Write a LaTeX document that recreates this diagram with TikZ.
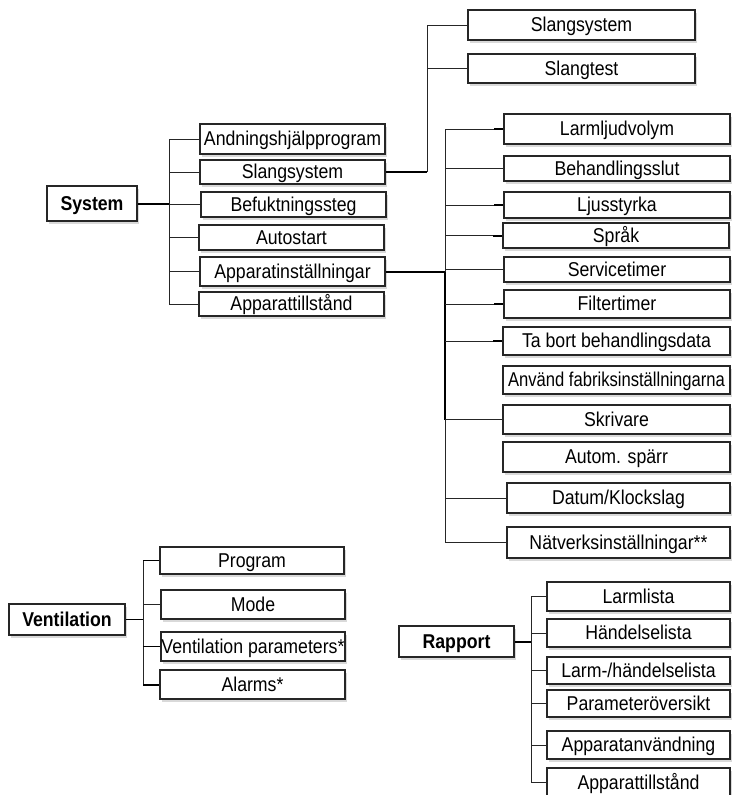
\documentclass[tikz,border=0pt]{standalone}
\usepackage{fontspec}
\setmainfont{Liberation Sans}[FakeStretch=0.885]
\newfontfamily\narrowfont{Liberation Sans}[FakeStretch=0.83]
\usetikzlibrary{shadows}
\tikzset{
  box/.style={draw=black!85, line width=1.2pt, fill=white, inner sep=0pt,
    text height=13.6pt, text depth=0pt, font=\fontsize{20}{23}\selectfont,
    drop shadow={shadow xshift=1.5pt, shadow yshift=-3pt, opacity=0.3}},
  hbox/.style={box, line width=2pt, font=\bfseries\fontsize{20}{23}\selectfont},
  ln/.style={line width=1pt, draw=black!85},
  tk/.style={line width=2pt, draw=black},
  md/.style={line width=1.6pt, draw=black}
}
\begin{document}
\begin{tikzpicture}[x=1pt,y=-1pt]
\useasboundingbox (0,0) rectangle (731,795);

% ---------- System ----------
\node[hbox, minimum width=90pt, minimum height=35pt] (sys) at (92,203.5) {System};
\node[box, minimum width=185pt, minimum height=30pt] (a1) at (292.5,139) {Andningshjälpprogram};
\node[box, minimum width=185pt, minimum height=24pt] (a2) at (292.5,172) {Slangsystem};
\node[box, minimum width=185pt, minimum height=25pt] (a3) at (293.5,204.5) {Befuktningssteg};
\node[box, minimum width=185pt, minimum height=25pt] (a4) at (291.5,237.5) {Autostart};
\node[box, minimum width=185pt, minimum height=29pt] (a5) at (292.5,271.5) {Apparatinställningar};
\node[box, minimum width=185pt, minimum height=24pt] (a6) at (291.5,304) {Apparattillstånd};

\node[box, minimum width=227pt, minimum height=30pt] (b1) at (581.5,25) {Slangsystem};
\node[box, minimum width=227pt, minimum height=29pt] (b2) at (581.5,68.5) {Slangtest};

\node[box, minimum width=226pt, minimum height=30pt] (c1) at (617,129) {Larmljudvolym};
\node[box, minimum width=226pt, minimum height=25pt] (c2) at (617,168.5) {Behandlingsslut};
\node[box, minimum width=226pt, minimum height=26pt] (c3) at (617,205) {Ljusstyrka};
\node[box, minimum width=226pt, minimum height=25pt] (c4) at (616,235.5) {Språk};
\node[box, minimum width=226pt, minimum height=25pt] (c5) at (617,269.5) {Servicetimer};
\node[box, minimum width=226pt, minimum height=28pt] (c6) at (617,304) {Filtertimer};
\node[box, minimum width=227pt, minimum height=28pt] (c7) at (616.5,341) {Ta bort behandlingsdata};
\node[box, minimum width=227pt, minimum height=28pt, font=\narrowfont\fontsize{20}{23}\selectfont] (c8) at (616.5,380) {Använd fabriksinställningarna};
\node[box, minimum width=227pt, minimum height=29pt] (c9) at (616.5,419.5) {Skrivare};
\node[box, minimum width=227pt, minimum height=30pt] (c10) at (616.5,457) {Autom. spärr};
\node[box, minimum width=223pt, minimum height=30pt] (c11) at (618.5,498) {Datum/Klockslag};
\node[box, minimum width=223pt, minimum height=31pt] (c12) at (618.5,542.5) {Nätverksinställningar**};

\coordinate (tS) at (169,0);
\draw[tk] (sys.east) -- (sys.east -| tS);
\draw[ln] (tS |- a1.west) -- (tS |- a6.west);
\foreach \n in {a1,a2,a3,a4,a5,a6} \draw[ln] (tS |- \n.west) -- (\n.west);

\coordinate (tB) at (427,0);
\draw[md] (a2.east) -- (a2.east -| tB);
\draw[ln] (tB |- a2.east) -- (tB |- b1.west) -- (b1.west);
\draw[ln] (tB |- b2.west) -- (b2.west);

\coordinate (tC) at (445,0);
\draw[tk] (a5.east) -- (a5.east -| tC);
\draw[ln] (tC |- c1.west) -- (tC |- c12.west);
\draw[tk] (tC |- a5.east) -- (tC |- c9.west);
\foreach \n in {c1,c2,c3,c4,c5,c6,c7,c9,c11,c12} \draw[ln] (tC |- \n.west) -- (\n.west);
\foreach \n in {c1,c3,c4,c6,c7} \draw[tk] ([xshift=-9pt]\n.west) -- (\n.west);

% ---------- Ventilation ----------
\node[hbox, minimum width=116pt, minimum height=31pt] (ven) at (67,619.5) {Ventilation};
\node[box, minimum width=184pt, minimum height=27pt] (v1) at (252,560.5) {Program};
\node[box, minimum width=184pt, minimum height=29pt] (v2) at (253,604.5) {Mode};
\node[box, minimum width=184pt, minimum height=29pt] (v3) at (253,646.5) {Ventilation parameters*};
\node[box, minimum width=185pt, minimum height=29pt] (v4) at (252.5,684.5) {Alarms*};

\coordinate (tV) at (143,0);
\draw[md] (ven.east) -- (ven.east -| tV);
\draw[ln] (tV |- v1.west) -- (tV |- v4.west);
\draw[md] (tV |- v1.west) -- (v1.west);
\draw[ln] (tV |- v2.west) -- (v2.west);
\draw[md] (tV |- v3.west) -- (v3.west);
\draw[tk] (tV |- v4.west) -- (v4.west);

% ---------- Rapport ----------
\node[hbox, minimum width=115pt, minimum height=31pt] (rap) at (456.5,641.5) {Rapport};
\node[box, minimum width=183pt, minimum height=29pt] (r1) at (638.5,596.5) {Larmlista};
\node[box, minimum width=183pt, minimum height=28pt] (r2) at (638.5,633) {Händelselista};
\node[box, minimum width=183pt, minimum height=27pt] (r3) at (638.5,670.5) {Larm-/händelselista};
\node[box, minimum width=183pt, minimum height=27pt] (r4) at (638.5,703.5) {Parameteröversikt};
\node[box, minimum width=183pt, minimum height=28pt] (r5) at (638.5,745) {Apparatanvändning};
\node[box, minimum width=183pt, minimum height=29pt] (r6) at (638.5,782.5) {Apparattillstånd};

\coordinate (tR) at (531,0);
\draw[tk] (rap.east) -- (rap.east -| tR);
\draw[ln] (tR |- r1.west) -- (tR |- r6.west);
\foreach \n in {r1,r2,r3,r4,r5,r6} \draw[ln] (tR |- \n.west) -- (\n.west);
\end{tikzpicture}
\end{document}
